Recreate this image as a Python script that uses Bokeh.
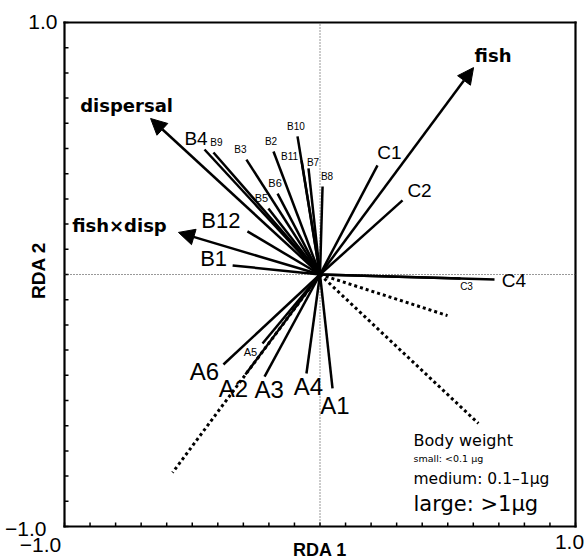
import numpy as np
from bokeh.plotting import figure
from bokeh.models import ColumnDataSource, Arrow, NormalHead, Label
from bokeh.core.properties import value
from bokeh.embed import file_html
from bokeh.resources import INLINE

# ---- data ----
species = ["A1", "A2", "A3", "A4", "A5", "A6",
           "B1", "B2", "B3", "B4", "B5", "B6", "B7", "B8", "B9", "B10", "B11", "B12",
           "C1", "C2", "C3", "C4"]
rda1 = [0.049, -0.292, -0.217, -0.053, -0.225, -0.378,
        -0.342, -0.182, -0.288, -0.452, -0.202, -0.166, -0.045, 0.010, -0.417, -0.088, -0.072, -0.284,
        0.225, 0.323, 0.550, 0.683]
rda2 = [-0.452, -0.397, -0.405, -0.393, -0.274, -0.357,
        0.036, 0.488, 0.456, 0.496, 0.262, 0.321, 0.421, 0.349, 0.484, 0.548, 0.452, 0.171,
        0.433, 0.294, -0.016, -0.020]
body_size = ["large", "large", "large", "large", "small", "large",
             "large", "small", "small", "medium", "small", "small", "small", "small", "small", "small", "small", "large",
             "medium", "medium", "small", "medium"]

env_names = ["fish", "dispersal", "fish\u00d7disp"]
env_rda1 = [0.601, -0.663, -0.554]
env_rda2 = [0.821, 0.619, 0.167]

bw_classes = ["small", "medium", "large"]
bw_rda1 = [0.499, 0.620, -0.577]
bw_rda2 = [-0.163, -0.591, -0.786]

axis_lo, axis_hi = -1.0, 1.0
axis_ticks = [-1.0, -0.9, -0.8, -0.7, -0.6, -0.5, -0.4, -0.3, -0.2, -0.1, 0.0,
              0.1, 0.2, 0.3, 0.4, 0.5, 0.6, 0.7, 0.8, 0.9, 1.0]
legend_title = "Body weight"
legend_rows = ["small: <0.1 \u00b5g", "medium: 0.1\u20131\u00b5g", "large: >1\u00b5g"]

# ---- layout (pixels) ----
W, H = 585, 560
FL, FR, FT, FB = 64, 575, 22, 526          # box edges on the canvas
sx = (FR - FL) / (axis_hi - axis_lo)
sy = (FB - FT) / (axis_hi - axis_lo)
x_start = axis_lo - FL / sx
x_end = axis_hi + (W - FR) / sx
y_end = axis_hi + FT / sy
y_start = axis_lo - (H - FB) / sy

# ---- styles (label placement in pixels, font sizes) ----
label_dx = [2.5, -12, 4.5, 2, -12, -19,
            -19, -2.5, -6, -8.5, -7, -2.5, 4.5, 4.5, 3, -1.5, -12, -26.5,
            12, 17, 6, 19.5]
label_dy = [17.5, 13.5, 13, 13, 8.5, 7,
            -6.5, -10, -10, -11.5, -10.5, -10.5, -5.5, -10, -10.5, -9.5, -4, -11,
            -12.5, -10, 8, 0.5]
size_font = {"small": "10px", "medium": "19px", "large": "24px"}
fs = [size_font[s] for s in body_size]
for i, n in enumerate(species):
    if n in ("B1", "B12"):
        fs[i] = "22px"
    if n in ("B5", "B6", "A5"):
        fs[i] = "11px"

env_dx = [19.5, -24, -59]
env_dy = [-12, -13, -7]

p = figure(width=W, height=H, x_range=(x_start, x_end), y_range=(y_start, y_end),
           output_backend="svg", toolbar_location=None,
           x_axis_location=None, y_axis_location=None,
           min_border=0, min_border_left=0, min_border_right=0,
           min_border_top=0, min_border_bottom=0)
p.grid.visible = False
p.outline_line_color = None
p.background_fill_color = "white"
p.border_fill_color = "white"

# box edges (bottom, top, left, right) and inside ticks (left and bottom)
p.segment(x0=[axis_lo, axis_lo, axis_lo, axis_hi], y0=[axis_lo, axis_hi, axis_lo, axis_lo],
          x1=[axis_hi, axis_hi, axis_lo, axis_hi], y1=[axis_lo, axis_hi, axis_hi, axis_hi],
          line_color="black", line_width=2.2, line_cap="square")
p.ray(x=axis_ticks, y=[axis_lo] * len(axis_ticks), length=4, length_units="screen",
      angle=np.pi / 2, line_color="black", line_width=1.5)
p.ray(x=[axis_lo] * len(axis_ticks), y=axis_ticks, length=4, length_units="screen",
      angle=0, line_color="black", line_width=1.5)

# dotted zero lines
p.segment(x0=[axis_lo, 0], y0=[0, axis_lo], x1=[axis_hi, 0], y1=[0, axis_hi],
          line_color="#333333", line_width=1, line_dash="1 2")

bw_src = ColumnDataSource(dict(x=bw_rda1, y=bw_rda2, cls=bw_classes))
p.segment(x0=0, y0=0, x1="x", y1="y", source=bw_src, line_color="black",
          line_width=3, line_dash="3 3")

sp_src = ColumnDataSource(dict(x=rda1, y=rda2, name=species, dx=label_dx, dy=label_dy, fs=fs))
p.segment(x0=0, y0=0, x1="x", y1="y", source=sp_src, line_color="black", line_width=2.5)
p.text(x="x", y="y", text="name", x_offset="dx", y_offset="dy", text_font_size="fs",
       text_align="center", text_baseline="middle", text_color="black",
       text_font=value("Liberation Sans"), source=sp_src)

env_src = ColumnDataSource(dict(x=env_rda1, y=env_rda2, name=env_names, dx=env_dx, dy=env_dy))
p.add_layout(Arrow(end=NormalHead(size=16, fill_color="black", line_color="black", line_width=1),
                   x_start=0, y_start=0, x_end="x", y_end="y", source=env_src,
                   line_color="black", line_width=2.5))
p.text(x="x", y="y", text="name", x_offset="dx", y_offset="dy", text_font_size="18px",
       text_align="center", text_baseline="middle", text_color="black", text_font_style="bold",
       text_font=value("DejaVu Sans"), source=env_src)

# legend for body weight
p.add_layout(Label(x=0.366, y=-0.659, text=legend_title, text_font="DejaVu Sans",
                   text_font_size="16px", text_baseline="middle", text_color="black"))
leg_y = [-0.730, -0.811, -0.909]
leg_fs = ["9.5px", "15.5px", "21px"]
for t, yy, f in zip(legend_rows, leg_y, leg_fs):
    p.add_layout(Label(x=0.366, y=yy, text=t, text_font="DejaVu Sans",
                       text_font_size=f, text_baseline="middle", text_color="black"))

# axis end labels and titles
tk = dict(text_font="Liberation Sans", text_font_size="21px", text_baseline="middle",
          text_color="black")
p.add_layout(Label(x=axis_lo, y=axis_hi, x_offset=-7, y_offset=1, text="1.0", text_align="right", **tk))
p.add_layout(Label(x=axis_lo, y=axis_lo, x_offset=-18, y_offset=-2, text="\u22121.0", text_align="right", **tk))
p.add_layout(Label(x=axis_lo, y=axis_lo, x_offset=-24, y_offset=-18, text="\u22121.0", text_align="center", **tk))
p.add_layout(Label(x=axis_hi, y=axis_lo, x_offset=-6, y_offset=-15, text="1.0", text_align="center", **tk))
p.add_layout(Label(x=0, y=axis_lo, y_offset=-23, text="RDA 1", text_align="center",
                   text_baseline="middle", text_font="Liberation Sans", text_font_style="bold",
                   text_font_size="18px", text_color="black"))
p.add_layout(Label(x=axis_lo, y=0, x_offset=-26, y_offset=4, text="RDA 2", text_align="center",
                   text_baseline="middle", angle=np.pi / 2, text_font="Liberation Sans",
                   text_font_style="bold", text_font_size="19px", text_color="black"))

open("out.html", "w").write(file_html(p, INLINE))
